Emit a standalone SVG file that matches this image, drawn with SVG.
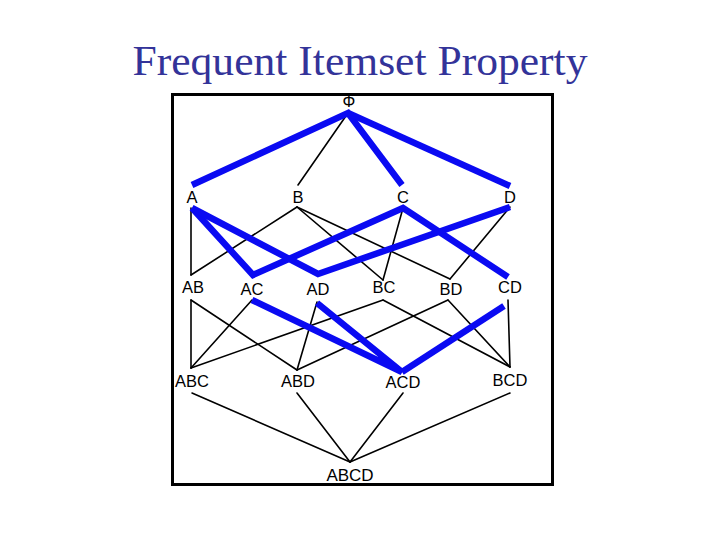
<svg xmlns="http://www.w3.org/2000/svg" width="720" height="540" viewBox="0 0 720 540">
<style>
.title{font-family:"Liberation Serif","Times New Roman",serif;font-size:42px;fill:#333399;text-anchor:middle}
.lbl{font-family:"Liberation Sans",Arial,sans-serif;font-size:16.5px;fill:#000;text-anchor:middle}
.blk{stroke:#000;stroke-width:1.6;fill:none;stroke-linecap:round}
.blu{stroke:#0a0af2;stroke-width:6.5;fill:none;stroke-linecap:butt;stroke-linejoin:miter}
</style>
<rect width="720" height="540" fill="#fff"/>
<text class="title" x="360" y="75" textLength="455" lengthAdjust="spacingAndGlyphs">Frequent Itemset Property</text>
<rect x="172.5" y="94.5" width="380" height="390" fill="none" stroke="#000" stroke-width="3"/>
<g id="connectors">
<g id="black">
<line class="blk" x1="348" y1="113" x2="298" y2="185"/>
<line class="blk" x1="191" y1="208" x2="191" y2="275"/>
<line class="blk" x1="297" y1="207" x2="191" y2="275"/>
<line class="blk" x1="297" y1="207" x2="383" y2="280"/>
<line class="blk" x1="297" y1="207" x2="450" y2="279"/>
<line class="blk" x1="403" y1="208" x2="383" y2="280"/>
<line class="blk" x1="510" y1="207" x2="450" y2="279"/>
<line class="blk" x1="191" y1="300" x2="191" y2="368"/>
<line class="blk" x1="191" y1="300" x2="297" y2="370"/>
<line class="blk" x1="252" y1="300" x2="191" y2="368"/>
<line class="blk" x1="317" y1="302" x2="297" y2="370"/>
<line class="blk" x1="383" y1="300" x2="191" y2="368"/>
<line class="blk" x1="383" y1="300" x2="510" y2="367"/>
<line class="blk" x1="448" y1="300" x2="297" y2="370"/>
<line class="blk" x1="448" y1="300" x2="510" y2="367"/>
<line class="blk" x1="508" y1="300" x2="510" y2="367"/>
<line class="blk" x1="192" y1="393" x2="350" y2="462"/>
<line class="blk" x1="297" y1="393" x2="350" y2="462"/>
<line class="blk" x1="403" y1="393" x2="350" y2="462"/>
<line class="blk" x1="510" y1="393" x2="350" y2="462"/>
</g>
<g id="blue">
<polyline class="blu" points="192,185 348,113 402,185"/>
<line class="blu" x1="348" y1="113" x2="510" y2="186"/>
<polyline class="blu" points="192,208 253,275 403,208 508,277"/>
<polyline class="blu" points="192,208 318,274 510,207"/>
<polyline class="blu" points="252,300 402,372 317,303"/>
<line class="blu" x1="402" y1="372" x2="504" y2="306"/>
</g>
</g>
<g id="n-phi"><text class="lbl" x="349" y="107" style="font-size:16px">Φ</text></g>
<g id="n-A"><text class="lbl" x="192" y="203">A</text></g>
<g id="n-B"><text class="lbl" x="298" y="203">B</text></g>
<g id="n-C"><text class="lbl" x="403" y="203">C</text></g>
<g id="n-D"><text class="lbl" x="510" y="203">D</text></g>
<g id="n-AB"><text class="lbl" x="193" y="293">AB</text></g>
<g id="n-AC"><text class="lbl" x="252" y="295">AC</text></g>
<g id="n-AD"><text class="lbl" x="318" y="295">AD</text></g>
<g id="n-BC"><text class="lbl" x="384" y="293">BC</text></g>
<g id="n-BD"><text class="lbl" x="451" y="295">BD</text></g>
<g id="n-CD"><text class="lbl" x="510" y="293">CD</text></g>
<g id="n-ABC"><text class="lbl" x="192" y="387">ABC</text></g>
<g id="n-ABD"><text class="lbl" x="298" y="387">ABD</text></g>
<g id="n-ACD"><text class="lbl" x="403" y="388">ACD</text></g>
<g id="n-BCD"><text class="lbl" x="510" y="386">BCD</text></g>
<g id="n-ABCD"><text class="lbl" x="350" y="481" style="font-size:17px">ABCD</text></g>
</svg>
